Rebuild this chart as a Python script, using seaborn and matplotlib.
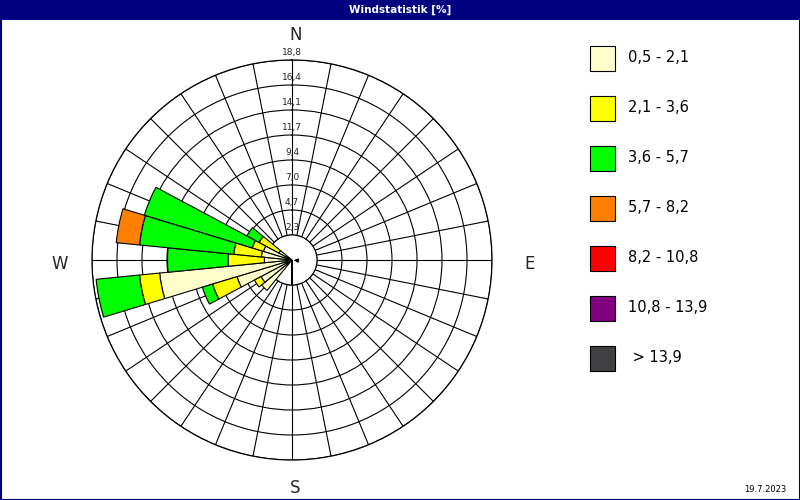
import numpy as np
import matplotlib
matplotlib.use("Agg")
import matplotlib.pyplot as plt
from matplotlib.patches import Rectangle
import seaborn as sns

# wind directions (deg, clockwise from north), 32 sectors of 11.25 deg
directions = [225.0, 236.25, 247.5, 258.75, 270.0, 281.25, 292.5, 303.75]

# frequency [%] per speed class for each direction
cls_05_21 = [3.7, 3.3, 5.4, 12.5, 2.6, 2.9, 2.8, 1.4]
cls_21_36 = [0.0, 0.7, 2.4, 1.9, 3.4, 2.6, 1.1, 2.1]
cls_36_57 = [0.0, 0.0, 1.0, 4.1, 5.7, 8.9, 10.6, 1.3]
cls_57_82 = [0.0, 0.0, 0.0, 0.0, 0.0, 2.2, 0.0, 0.0]
cls_82_108 = [0.0, 0.0, 0.0, 0.0, 0.0, 0.0, 0.0, 0.0]
cls_108_139 = [0.0, 0.0, 0.0, 0.0, 0.0, 0.0, 0.0, 0.0]
cls_139 = [0.0, 0.0, 0.0, 0.0, 0.0, 0.0, 0.0, 0.0]

class_labels = ["0,5 - 2,1", "2,1 - 3,6", "3,6 - 5,7", "5,7 - 8,2",
                "8,2 - 10,8", "10,8 - 13,9", " > 13,9"]
class_colors = ["#FFFFCC", "#FFFF00", "#00FF00", "#FF8000",
                "#FF0000", "#800080", "#403F42"]

ring_step = 2.35
ring_labels = ["2,3", "4,7", "7,0", "9,4", "11,7", "14,1", "16,4", "18,8"]
date_text = "19.7.2023"

sns.set_theme(style="white")
plt.rcParams['font.family'] = ['DejaVu Sans']

fig = plt.figure(figsize=(8, 5), dpi=100)
fig.patch.set_facecolor("white")

# background / frame axes in pixel coordinates
bg = fig.add_axes([0, 0, 1, 1], zorder=0)
bg.set_xlim(0, 800)
bg.set_ylim(500, 0)
bg.axis("off")
bg.add_patch(Rectangle((0, 0), 800, 20, color="#000080", lw=0))
bg.add_patch(Rectangle((0.5, 0.5), 799, 499, fill=False, ec="#000080", lw=1.5))
bg.text(400, 10, "Windstatistik [%]", color="white", fontsize=7.5,
        fontweight="bold", ha="center", va="center")
bg.text(765, 489, date_text, fontsize=6, ha="center", va="center", color="black")

# compass letters
bg.text(296, 35, "N", fontsize=12, ha="center", va="center")
bg.text(295, 488, "S", fontsize=12, ha="center", va="center")
bg.text(60, 264, "W", fontsize=12, ha="center", va="center")
bg.text(530, 264, "E", fontsize=12, ha="center", va="center")

# legend
for i, (lab, col) in enumerate(zip(class_labels, class_colors)):
    yc = 58 + 50 * i
    bg.add_patch(Rectangle((590, yc - 12.5), 25, 25, fc=col, ec="black", lw=0.8))
    bg.text(628, yc, lab, fontsize=10.5, ha="left", va="center", color="black")

# polar wind rose
ax = fig.add_axes([92 / 800, 40 / 500, 400 / 800, 400 / 500],
                  projection="polar", zorder=1)
ax.set_facecolor("none")
ax.set_theta_zero_location("N")
ax.set_theta_direction(-1)
ax.set_ylim(0, ring_step * 8)
ax.set_yticks([ring_step * k for k in range(1, 9)])
ax.set_yticklabels([])
ax.set_xticks(np.deg2rad(np.arange(0, 360, 11.25)))
ax.set_xticklabels([])
ax.grid(True, color="black", linewidth=0.8)
ax.set_axisbelow(True)
ax.spines["polar"].set_color("black")
ax.spines["polar"].set_linewidth(0.9)

# calm circle
ax.bar(0, ring_step, width=2 * np.pi, bottom=0, color="white",
       edgecolor="black", linewidth=0.8, zorder=1)

theta = np.deg2rad(directions)
width = np.deg2rad(11.25)
classes = [cls_05_21, cls_21_36, cls_36_57, cls_57_82, cls_82_108, cls_108_139, cls_139]
bottom = np.zeros(len(directions))
for vals, col in zip(classes, class_colors):
    vals = np.array(vals)
    mask = vals > 0
    if mask.any():
        ax.bar(theta[mask], vals[mask], width=width, bottom=bottom[mask],
               color=col, edgecolor="black", linewidth=0.8, zorder=2)
    bottom = bottom + vals

# ring labels along the north axis
for k, lab in enumerate(ring_labels, start=1):
    ax.text(0, ring_step * k + 0.75, lab, fontsize=6.5, ha="center", va="center", zorder=3)

# small arrow at the centre
ax.annotate("", xy=(np.deg2rad(270), 0.1), xytext=(np.deg2rad(95), 0.9),
            arrowprops=dict(arrowstyle="-|>", color="black", lw=0.8,
                            mutation_scale=6), zorder=4)

fig.savefig("out.png", dpi=100)
